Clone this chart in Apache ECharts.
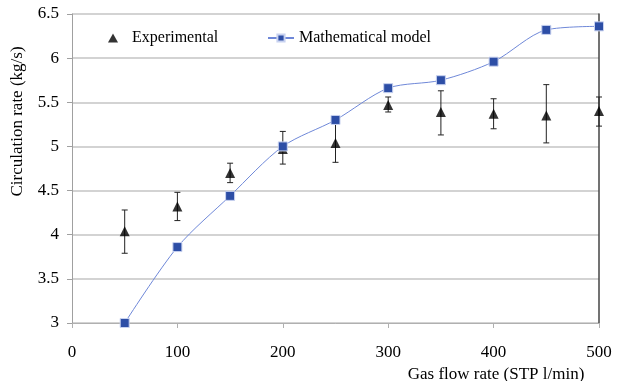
<!DOCTYPE html>
<html>
<head>
<meta charset="utf-8">
<script src="https://cdn.jsdelivr.net/npm/echarts@6/dist/echarts.min.js"></script>
<style>
  html, body { margin: 0; padding: 0; background: #fff; }
  #chart { width: 624px; height: 381px; }
</style>
</head>
<body>
<div id="chart"></div>
<script>
    var gasFlow = [50, 100, 150, 200, 250, 300, 350, 400, 450, 500];
    var modelRate = [3.0, 3.86, 4.44, 5.0, 5.30, 5.66, 5.75, 5.96, 6.32, 6.36];
    var expRate = [4.04, 4.32, 4.70, 4.97, 5.04, 5.47, 5.39, 5.37, 5.35, 5.40];
    var expLow = [3.79, 4.16, 4.59, 4.80, 4.82, 5.39, 5.13, 5.20, 5.04, 5.23];
    var expHigh = [4.28, 4.48, 4.81, 5.17, 5.26, 5.56, 5.63, 5.54, 5.70, 5.56];

    var font = 'Liberation Serif';

    var expData = gasFlow.map(function (x, i) { return [x, expRate[i]]; });
    var modelData = gasFlow.map(function (x, i) { return [x, modelRate[i]]; });
    var errData = gasFlow.map(function (x, i) { return [x, expLow[i], expHigh[i]]; });

    var chart = echarts.init(document.getElementById('chart'));

    chart.setOption({
        animation: false,
        textStyle: { fontFamily: font },
        grid: { left: 72, right: 25, top: 14, bottom: 58, containLabel: false, outerBoundsMode: 'none' },
        legend: [{
            data: ['Experimental'],
            left: 103, top: 25,
            icon: 'triangle',
            itemWidth: 10, itemHeight: 9,
            itemGap: 0,
            textStyle: { fontFamily: font, fontSize: 16, color: '#000', padding: [0, 0, 0, 9] }
        }, {
            data: ['Mathematical model'],
            left: 262, top: 25,
            itemWidth: 26, itemHeight: 9,
            textStyle: { fontFamily: font, fontSize: 16, color: '#000' }
        }],
        xAxis: {
            type: 'value',
            min: 0, max: 500, interval: 100,
            name: 'Gas flow rate (STP l/min)',
            nameLocation: 'middle',
            nameGap: 40,
            nameTextStyle: { fontFamily: font, fontSize: 17, color: '#000', padding: [0, 0, 0, 321] },
            axisLine: { lineStyle: { color: '#b0b0b0', width: 1 } },
            axisTick: { show: true, length: 5, lineStyle: { color: '#b0b0b0' } },
            axisLabel: { fontFamily: font, fontSize: 17, color: '#000', margin: 21 },
            splitLine: { show: false }
        },
        yAxis: [{
            type: 'value',
            min: 3, max: 6.5, interval: 0.5,
            name: 'Circulation rate (kg/s)',
            nameLocation: 'middle',
            nameGap: 46,
            nameTextStyle: { fontFamily: font, fontSize: 17, color: '#000', padding: [0, 0, 0, 94] },
            axisLine: { show: true, lineStyle: { color: '#a0a0a0' } },
            axisTick: { show: true, length: 5, lineStyle: { color: '#a0a0a0' } },
            axisLabel: { fontFamily: font, fontSize: 17, color: '#000', margin: 13 },
            splitLine: { lineStyle: { color: '#c4c4c4', width: 1.5 } }
        }, {
            type: 'value',
            position: 'right',
            min: 3, max: 6.5, interval: 0.5,
            axisLine: { show: true, lineStyle: { color: '#444', width: 1.5 } },
            axisTick: { show: false },
            axisLabel: { show: false },
            splitLine: { show: false }
        }],
        series: [{
            name: 'ErrorBars',
            type: 'custom',
            data: errData,
            z: 3,
            renderItem: function (params, api) {
                var x = api.value(0);
                var lo = api.coord([x, api.value(1)]);
                var hi = api.coord([x, api.value(2)]);
                var cap = 3;
                var st = { stroke: '#222', lineWidth: 1 };
                return {
                    type: 'group',
                    children: [
                        { type: 'line', shape: { x1: lo[0], y1: lo[1], x2: hi[0], y2: hi[1] }, style: st },
                        { type: 'line', shape: { x1: lo[0] - cap, y1: lo[1], x2: lo[0] + cap, y2: lo[1] }, style: st },
                        { type: 'line', shape: { x1: hi[0] - cap, y1: hi[1], x2: hi[0] + cap, y2: hi[1] }, style: st }
                    ]
                };
            }
        }, {
            name: 'Experimental',
            type: 'scatter',
            data: expData,
            symbol: 'triangle',
            symbolSize: [10, 10],
            itemStyle: { color: '#000' },
            z: 4
        }, {
            name: 'Mathematical model',
            type: 'line',
            data: modelData,
            smooth: 0.3,
            symbol: 'rect',
            symbolSize: 9,
            showAllSymbol: true,
            lineStyle: { color: '#6f88d8', width: 1 },
            itemStyle: { color: '#2d4ea6', borderColor: '#c8d2f0', borderWidth: 1 },
            z: 5
        }]
    });
</script>
</body>
</html>
